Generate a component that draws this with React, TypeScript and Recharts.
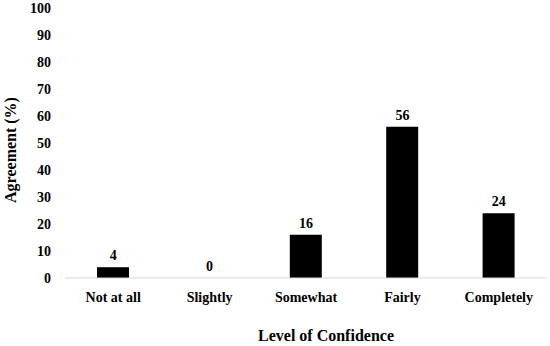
import { Bar, ComposedChart, LabelList, Line, XAxis, YAxis } from 'recharts';

const categories = ['Not at all', 'Slightly', 'Somewhat', 'Fairly', 'Completely'];
const agreement = [4, 0, 16, 56, 24];
const yTicks = [0, 10, 20, 30, 40, 50, 60, 70, 80, 90, 100];

const FONT = '"Liberation Serif", "Times New Roman", serif';

const data = categories.map((name, i) => ({ name, value: agreement[i] }));

export default function App() {
  return (
    <div style={{ position: 'fixed', top: 0, left: 0, width: 550, height: 346, background: '#fff' }}>
      <ComposedChart
        width={550}
        height={346}
        data={data}
        margin={{ top: 8, right: 3, bottom: 0, left: 0 }}
        barCategoryGap={0}
      >
        <XAxis
          dataKey="name"
          height={68}
          tickLine={false}
          axisLine={{ stroke: '#d9d9d9', strokeWidth: 1 }}
          tickMargin={8}
          tick={{ fill: '#000', fontFamily: FONT, fontWeight: 700, fontSize: 14 }}
          label={{
            value: 'Level of Confidence',
            position: 'insideBottom',
            offset: 5,
            dx: 20,
            fill: '#000',
            fontFamily: FONT,
            fontWeight: 700,
            fontSize: 16,
          }}
        />
        <YAxis
          width={65}
          domain={[0, 100]}
          ticks={yTicks}
          interval={0}
          axisLine={false}
          tickLine={false}
          tickMargin={8}
          tick={{ fill: '#000', fontFamily: FONT, fontWeight: 700, fontSize: 14 }}
          label={{
            value: 'Agreement (%)',
            angle: -90,
            position: 'center',
            dx: -22,
            dy: 7,
            fill: '#000',
            fontFamily: FONT,
            fontWeight: 700,
            fontSize: 16,
          }}
        />
        <Bar dataKey="value" fill="#000" barSize={32} isAnimationActive={false} />
        {/* invisible line only to carry the value labels (a zero bar gets none) */}
        <Line
          dataKey="value"
          stroke="none"
          dot={false}
          activeDot={false}
          legendType="none"
          isAnimationActive={false}
        >
          <LabelList
            dataKey="value"
            position="top"
            offset={7}
            fill="#000"
            fontFamily={FONT}
            fontWeight={700}
            fontSize={14}
          />
        </Line>
      </ComposedChart>
    </div>
  );
}
